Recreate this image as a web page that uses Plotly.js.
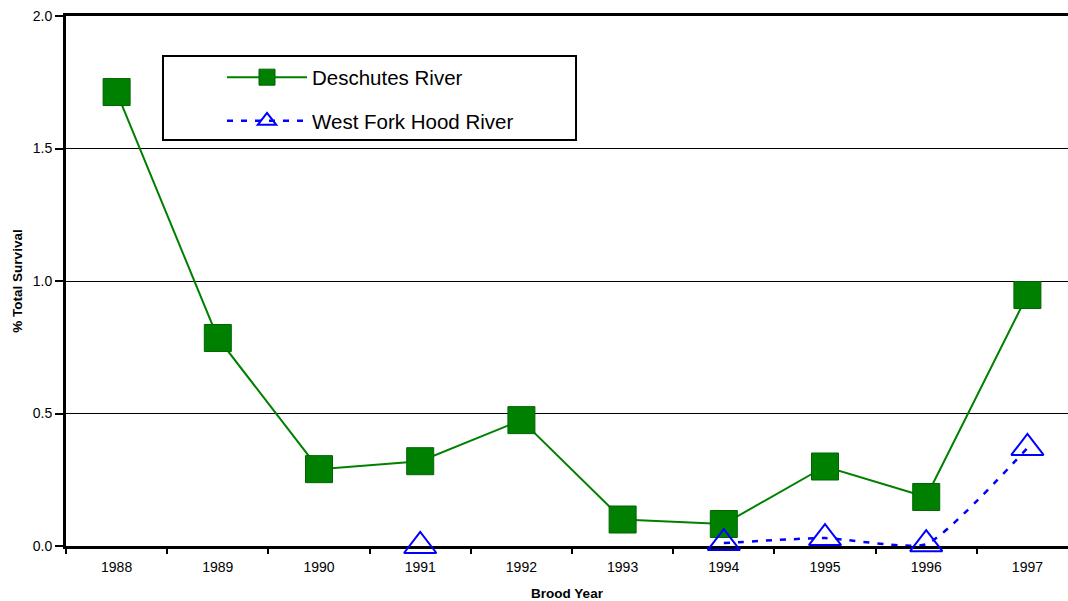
<!DOCTYPE html>
<html>
<head>
<meta charset="utf-8">
<script src="https://cdn.plot.ly/plotly-3.0.1.min.js"></script>
<style>html,body{margin:0;padding:0;background:#fff;}#chart{width:1068px;height:601px;}</style>
</head>
<body>
<div id="chart"></div>
<script>
const years = ['1988','1989','1990','1991','1992','1993','1994','1995','1996','1997'];
const deschutes = [1.713, 0.785, 0.29, 0.32, 0.475, 0.10, 0.083, 0.30, 0.185, 0.947];
const westFork = [null, null, null, 0.0, null, null, 0.011, 0.03, 0.007, 0.37];
const yTicks = [0, 0.5, 1.0, 1.5, 2.0];

const traces = [
  {
    x: years, y: deschutes, name: 'Deschutes River', type: 'scatter', mode: 'lines+markers',
    legendgroup: 'a', cliponaxis: false,
    line: {color: '#008000', width: 2},
    marker: {symbol: 'square', size: 27, color: '#008000', line: {color: '#006400', width: 1}}
  },
  {
    x: years, y: westFork, name: 'West Fork Hood River', type: 'scatter', mode: 'lines+markers',
    legendgroup: 'b', cliponaxis: false,
    line: {color: '#0000ff', width: 2.5, dash: '6px,8px', shape: 'spline', smoothing: 0.5},
    marker: {symbol: 'triangle-up-open', size: 28, color: '#0000ff', line: {color: '#0000ff', width: 2}}
  }
];

const layout = {
  width: 1068, height: 601,
  margin: {l: 66, r: 0, t: 16, b: 55},
  paper_bgcolor: '#fff', plot_bgcolor: '#fff',
  font: {family: 'Liberation Sans, Arial, sans-serif', color: '#000'},
  showlegend: true,
  legend: {
    x: 0.1557, y: 0.922, xanchor: 'left', yanchor: 'top',
    bgcolor: 'rgba(0,0,0,0)', borderwidth: 0,
    font: {size: 20.5, color: '#000'},
    itemwidth: 80, traceorder: 'grouped', tracegroupgap: 14,
    itemsizing: 'trace'
  },
  shapes: [{
    type: 'rect', xref: 'paper', yref: 'paper',
    x0: 0.0968, x1: 0.509, y0: 0.766, y1: 0.9245,
    line: {color: '#000', width: 2}, fillcolor: '#fff', layer: 'above'
  }],
  xaxis: {
    type: 'category', range: [-0.5, 9.401],
    layer: 'below traces',
    tickson: 'boundaries', ticks: 'outside', ticklen: 5, tickwidth: 2, tickcolor: '#000',
    ticklabelstandoff: 6,
    showline: true, linecolor: '#000', linewidth: 3, mirror: true,
    showgrid: false, zeroline: false,
    tickfont: {size: 14},
    title: {text: 'Brood Year', font: {size: 13.5, weight: 'bold'}, standoff: 15}
  },
  yaxis: {
    range: [0, 2], tickvals: yTicks, tickformat: '.1f',
    layer: 'below traces',
    ticks: 'outside', ticklen: 8, tickwidth: 2, tickcolor: '#000',
    showline: true, linecolor: '#000', linewidth: 3,
    showgrid: true, gridcolor: '#000', gridwidth: 1,
    zeroline: false,
    tickfont: {size: 14},
    title: {text: '% Total Survival', font: {size: 13.5, weight: 'bold'}, standoff: 8}
  }
};

Plotly.newPlot('chart', traces, layout, {displayModeBar: false, staticPlot: true});
</script>
</body>
</html>
